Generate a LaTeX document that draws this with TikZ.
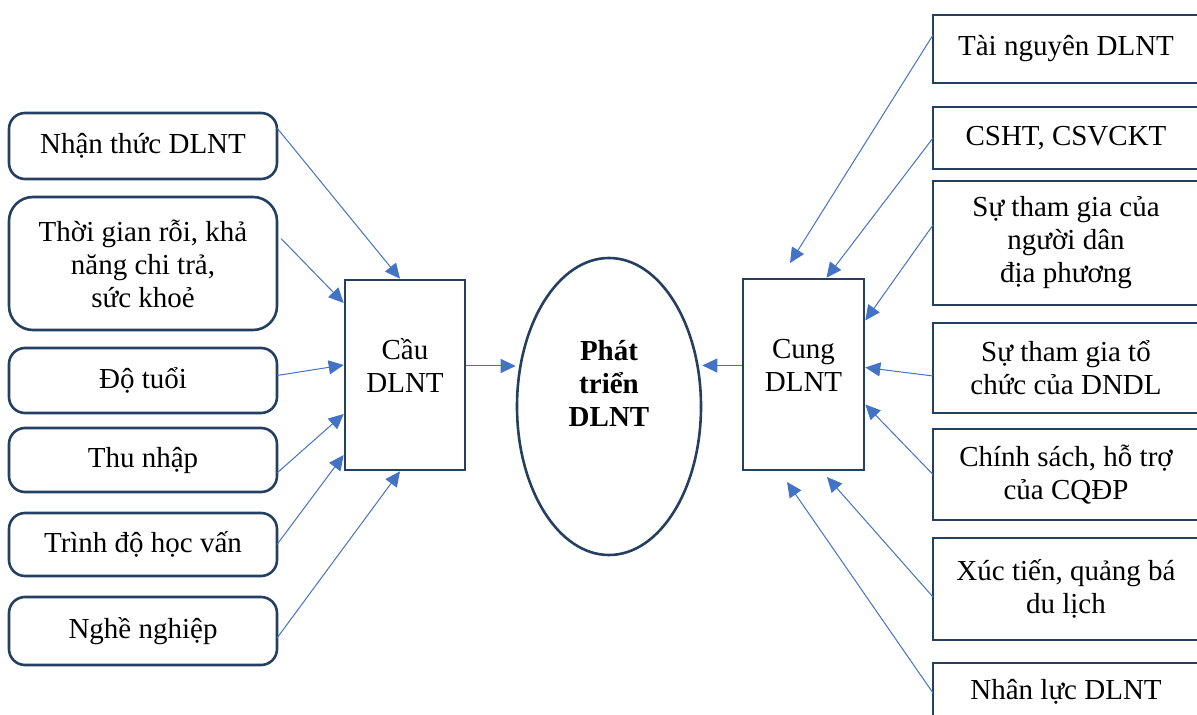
\documentclass[tikz,border=0pt]{standalone}
\usepackage{fontspec}
\setmainfont{Liberation Serif}
\usetikzlibrary{positioning, shapes.geometric, arrows.meta}
\definecolor{arrowblue}{HTML}{4472C4}
\definecolor{boxline}{HTML}{243F60}
\newcommand{\vntext}{\fontsize{14.5pt}{16.5pt}\selectfont}

\begin{document}
\begin{tikzpicture}[->, >={Triangle[length=7.5pt,width=7pt]}, x=0.5pt, y=-0.5pt, font=\vntext,
	every edge/.style={draw=arrowblue, line width=0.5pt},
	lbox/.style={draw=boxline, line width=1.3pt, outer sep=0pt, rounded corners=8pt, minimum width=134pt, align=center},
	rbox/.style={draw=boxline, line width=1.3pt, outer sep=0pt, minimum width=133pt, align=center}]
		\useasboundingbox (0,0) rectangle (1197,715);
		\node (1) [lbox, minimum height=33pt] at (143,146) {Nhận thức DLNT};
		\node (2) [lbox, minimum height=66.5pt, rounded corners=12pt, below=9pt of 1] {Thời gian rỗi, khả\\năng chi trả,\\sức khoẻ};
		\node (3) [lbox, minimum height=32.5pt, below=9pt of 2] {Độ tuổi};
		\node (4) [lbox, minimum height=32pt, below=7.5pt of 3] {Thu nhập};
		\node (5) [lbox, minimum height=31.5pt, below=10.5pt of 4] {Trình độ học vấn};
		\node (6) [lbox, minimum height=34pt, below=10.5pt of 5] {Nghề nghiệp};
		\node (7) [draw=boxline, line width=1.3pt, minimum width=60pt, minimum height=95pt,
			label={[yshift=4.5pt, align=center]center:Cầu\\DLNT}] at (405,375) {};
		\node (8) [ellipse, draw=boxline, line width=1.3pt, minimum width=92pt, minimum height=148.5pt,
			label={[yshift=11.5pt, align=center, font=\vntext\bfseries]center:Phát\\triển\\DLNT}] at (609,406.5) {};
		\node (9) [draw=boxline, line width=1.3pt, minimum width=60.5pt, minimum height=95.5pt,
			label={[yshift=4.5pt, align=center]center:Cung\\DLNT}] at (803.5,374.5) {};
		\node (10) [rbox, minimum height=34pt] at (1066,49) {Tài nguyên DLNT};
		\node (11) [rbox, minimum height=31pt, below=12pt of 10] {CSHT, CSVCKT};
		\node (12) [rbox, minimum height=62pt, below=6pt of 11] {Sự tham gia của\\người dân\\địa phương};
		\node (13) [rbox, minimum height=45pt, below=9pt of 12] {Sự tham gia tổ\\chức của DNDL};
		\node (14) [rbox, minimum height=45.5pt, below=8pt of 13] {Chính sách, hỗ trợ\\của CQĐP};
		\node (15) [rbox, minimum height=51pt, below=9pt of 14] {Xúc tiến, quảng bá\\du lịch};
		\node (16) [rbox, minimum height=29pt, below=11.5pt of 15] {Nhân lực DLNT};
		\coordinate (17) at (790,263);
		\coordinate (18) at (827,477);
		\coordinate (19) at (787,482);
		\path
		([yshift=9pt]1.east) edge ([xshift=-2.5pt]7.north)
		([yshift=12.5pt,xshift=2pt]2.east) edge ([yshift=36pt]7.west)
		([yshift=2.5pt]3.east) edge ([yshift=5pt]7.west)
		([yshift=-6.5pt]4.east) edge ([yshift=-19.5pt]7.west)
		(5.east) edge ([yshift=-40pt]7.west)
		([yshift=-3.5pt]6.east) edge ([xshift=-2.5pt]7.south)
		([yshift=4.5pt]7.east) edge ([yshift=4.5pt]7.east -| 8.west)
		([yshift=4.5pt]9.west) edge ([yshift=4.5pt]9.west -| 8.east)
		([yshift=7pt]10.west) edge (17)
		(11.west) edge ([xshift=11.5pt]9.north)
		([yshift=9pt]12.west) edge ([yshift=27pt]9.east)
		([yshift=-4pt]13.west) edge ([yshift=3.5pt]9.east)
		(14.west) edge ([yshift=-15pt]9.east)
		([yshift=-4pt]15.west) edge (18)
		([yshift=-0.5pt]16.west) edge (19);
	\end{tikzpicture}
\end{document}
